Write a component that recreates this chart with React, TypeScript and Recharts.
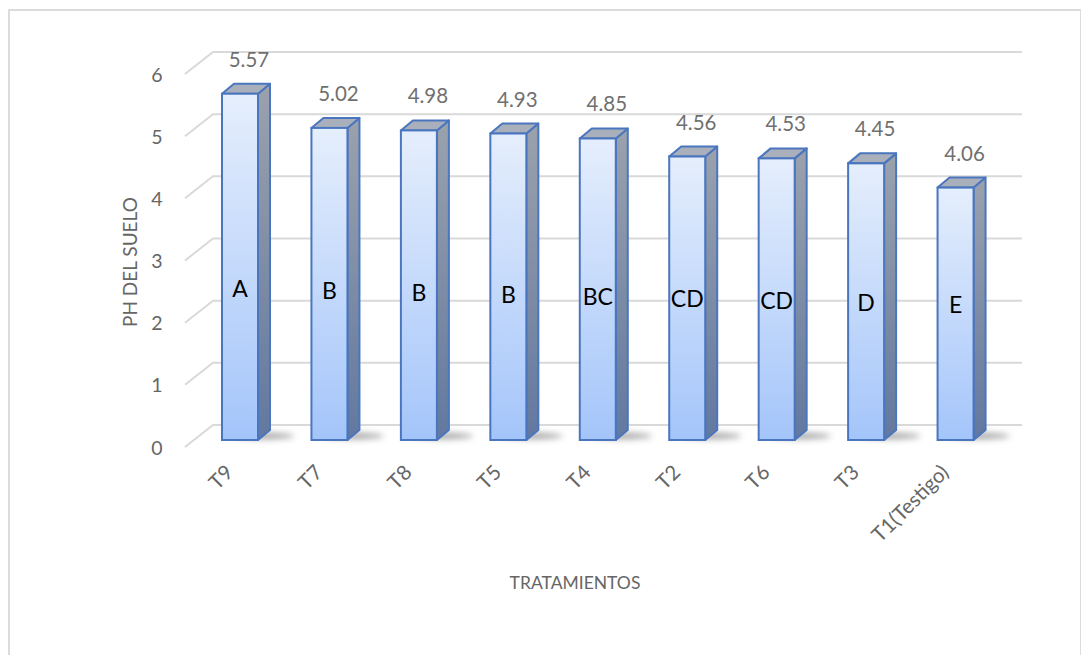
import { BarChart, Bar, XAxis, YAxis, CartesianGrid } from "recharts";

const categorias = ["T9", "T7", "T8", "T5", "T4", "T2", "T6", "T3", "T1(Testigo)"];
const phSuelo = [5.57, 5.02, 4.98, 4.93, 4.85, 4.56, 4.53, 4.45, 4.06];
const grupos = ["A", "B", "B", "B", "BC", "CD", "CD", "D", "E"];
const yTicks = [0, 1, 2, 3, 4, 5, 6];

const data = categorias.map((name, i) => ({
  name,
  ph: phSuelo[i],
  grupo: grupos[i],
}));

const FONT = "Lato, 'Open Sans', sans-serif";
const DX = 12; // bar depth
const DY = 10;

// floor/back-wall grid of the 3D plot
function GridLine3D(props: any) {
  const { x1, x2, y1, index } = props;
  return (
    <path
      key={`grid-${index}`}
      d={`M${x1 - 10},${y1 + 7} L${x1 + 18},${y1 - 15} L${x2 + 22},${y1 - 15}`}
      fill="none"
      stroke="#d9d9d9"
      strokeWidth={2}
    />
  );
}

function Bar3D(props: any) {
  const { x, y, width, height, payload, index } = props;
  const base = y + height;
  const cx = x + width / 2;
  return (
    <g>
      <ellipse
        cx={x + width + 6}
        cy={base - 4}
        rx={30}
        ry={3}
        fill="#444"
        opacity={0.5}
        filter="url(#sombra)"
      />
      <polygon
        points={`${x + width},${y} ${x + width + DX},${y - DY} ${x + width + DX},${base - DY} ${x + width},${base}`}
        fill="url(#lado)"
        stroke="#4a76bf"
        strokeWidth={2}
        strokeLinejoin="round"
      />
      <polygon
        points={`${x},${y} ${x + DX},${y - DY} ${x + width + DX},${y - DY} ${x + width},${y}`}
        fill="#a9b0bc"
        stroke="#4a76bf"
        strokeWidth={2}
        strokeLinejoin="round"
      />
      <rect
        x={x}
        y={y}
        width={width}
        height={height}
        fill="url(#frente)"
        stroke="#4a76bf"
        strokeWidth={2}
      />
      <text
        x={cx + 9}
        y={y - 35}
        textAnchor="middle"
        dominantBaseline="central"
        fill="#707070"
        fontSize={20.5}
        fontFamily={FONT}
      >
        {payload.ph.toFixed(2)}
      </text>
      <text
        x={cx}
        y={base - 152 + index * 2}
        textAnchor="middle"
        dominantBaseline="central"
        fill="#000"
        fontSize={23}
        fontFamily={FONT}
      >
        {payload.grupo}
      </text>
    </g>
  );
}

function YTick(props: any) {
  const { y, payload } = props;
  return (
    <text
      x={157}
      y={y + 7}
      textAnchor="middle"
      dominantBaseline="central"
      fill="#666"
      fontSize={19.5}
      fontFamily={FONT}
    >
      {payload.value}
    </text>
  );
}

function XTick(props: any) {
  const { x, payload } = props;
  const ax = x - 11;
  const ay = 468;
  return (
    <text
      x={ax}
      y={ay}
      textAnchor="end"
      dominantBaseline="central"
      transform={`rotate(-45 ${ax} ${ay})`}
      fill="#666"
      fontSize={20.5}
      fontFamily={FONT}
    >
      {payload.value}
    </text>
  );
}

export default function App() {
  return (
    <div style={{ position: "absolute", left: 0, top: 0, width: 1081, height: 655, background: "#fff", overflow: "hidden" }}>
      <div
        style={{
          position: "absolute",
          left: 8,
          top: 9,
          width: 1070,
          height: 680,
          border: "2px solid #dcdcdc",
        }}
      />
      <BarChart
        width={1081}
        height={655}
        data={data}
        margin={{ top: 67, right: 81, bottom: 185, left: 135 }}
        style={{ position: "absolute", left: 0, top: 0 }}
      >
        <defs>
          <linearGradient id="frente" x1="0" y1="0" x2="0" y2="1">
            <stop offset="0%" stopColor="#e5eefc" />
            <stop offset="100%" stopColor="#a4c5fa" />
          </linearGradient>
          <linearGradient id="lado" x1="0" y1="0" x2="0" y2="1">
            <stop offset="0%" stopColor="#9ba2ad" />
            <stop offset="100%" stopColor="#62789f" />
          </linearGradient>
          <filter id="sombra" x="-50%" y="-200%" width="200%" height="500%">
            <feGaussianBlur stdDeviation="3" />
          </filter>
        </defs>
        <CartesianGrid vertical={false} horizontal={GridLine3D} />
        <XAxis
          dataKey="name"
          interval={0}
          axisLine={false}
          tickLine={false}
          height={30}
          tick={XTick}
        />
        <YAxis
          domain={[0, 6]}
          ticks={yTicks}
          axisLine={false}
          tickLine={false}
          width={60}
          tick={YTick}
        />
        <Bar dataKey="ph" barSize={36} shape={Bar3D} isAnimationActive={false} />
        <text
          x={129}
          y={262}
          transform="rotate(-90 129 262)"
          textAnchor="middle"
          dominantBaseline="central"
          fill="#666"
          fontSize={19}
          fontFamily={FONT}
        >
          PH DEL SUELO
        </text>
        <text
          x={575}
          y={582}
          textAnchor="middle"
          dominantBaseline="central"
          fill="#666"
          fontSize={17.5}
          fontFamily={FONT}
        >
          TRATAMIENTOS
        </text>
      </BarChart>
    </div>
  );
}
